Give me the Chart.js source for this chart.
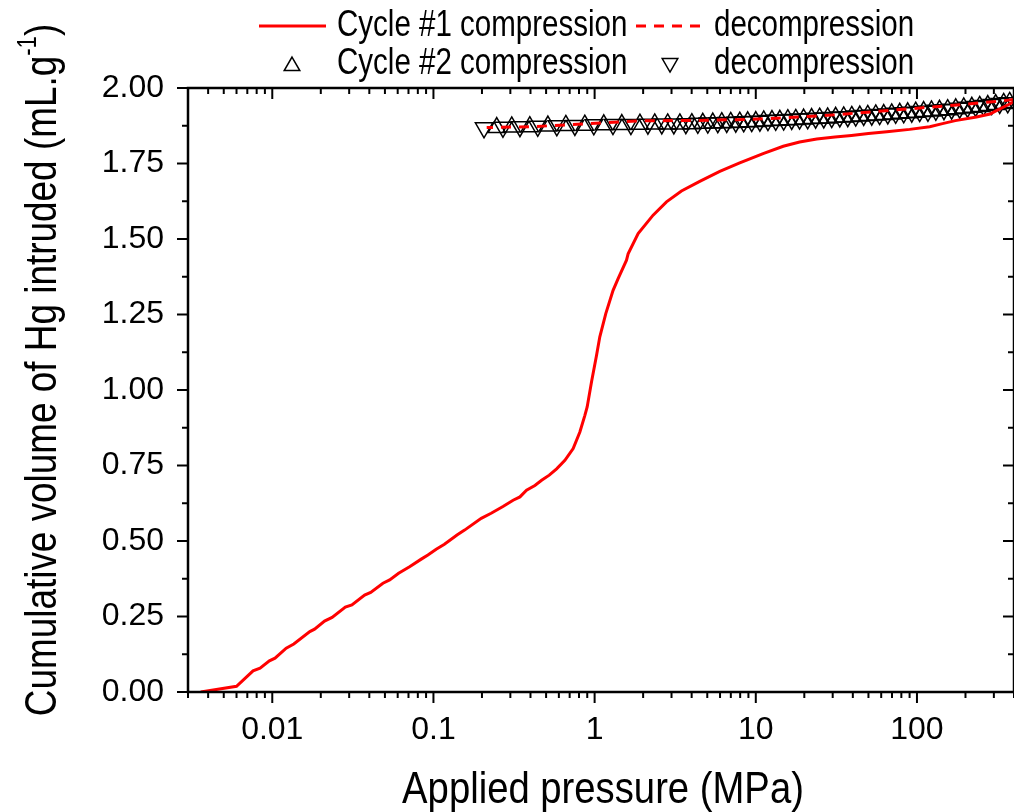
<!DOCTYPE html>
<html><head><meta charset="utf-8">
<script src="https://cdn.jsdelivr.net/npm/chart.js@4/dist/chart.umd.min.js"></script>
<style>html,body{margin:0;padding:0;background:#fff}</style>
</head><body>
<canvas id="c" width="1014" height="812"></canvas>
<script>
const FONT = "'Liberation Sans',Arial,sans-serif";
const NARROW = 0.82;

// Cycle #1 compression (pressure MPa, cumulative volume mL/g)
const cycle1CompP = [0.0036, 0.0060, 0.0076, 0.0084, 0.0096, 0.0104, 0.0122, 0.0136, 0.0171, 0.0183, 0.0211, 0.0235, 0.0284, 0.0312, 0.0374, 0.0408, 0.0486, 0.0535, 0.0608, 0.0711, 0.0840, 0.0924, 0.104, 0.117, 0.140, 0.156, 0.198, 0.228, 0.270, 0.312, 0.344, 0.378, 0.426, 0.469, 0.523, 0.581, 0.654, 0.736, 0.810, 0.870, 0.899, 0.957, 1.028, 1.077, 1.173, 1.302, 1.399, 1.577, 1.614, 1.862, 2.306, 2.792, 3.458, 4.49, 5.98, 7.95, 11.1, 14.8, 18.7, 23.9, 31.0, 39.2, 50.0, 65.0, 90.1, 120, 144, 173, 234, 284, 311, 376, 400];
const cycle1CompV = [0, 0.019, 0.070, 0.079, 0.103, 0.112, 0.145, 0.159, 0.200, 0.208, 0.235, 0.247, 0.281, 0.288, 0.321, 0.330, 0.360, 0.371, 0.393, 0.415, 0.440, 0.454, 0.473, 0.489, 0.520, 0.536, 0.575, 0.592, 0.614, 0.635, 0.646, 0.668, 0.684, 0.701, 0.718, 0.739, 0.767, 0.806, 0.861, 0.916, 0.944, 1.027, 1.115, 1.176, 1.253, 1.330, 1.369, 1.430, 1.451, 1.518, 1.579, 1.623, 1.659, 1.691, 1.724, 1.752, 1.783, 1.807, 1.821, 1.831, 1.838, 1.843, 1.849, 1.855, 1.863, 1.872, 1.882, 1.892, 1.904, 1.914, 1.925, 1.947, 1.955];

// Cycle #1 decompression
const cycle1DecompP = [400, 345, 191, 105, 55.4, 30.4, 16.0, 8.87, 4.89, 1.91, 0.782, 0.411, 0.214];
const cycle1DecompV = [1.962, 1.958, 1.945, 1.934, 1.922, 1.911, 1.902, 1.896, 1.893, 1.891, 1.880, 1.872, 1.869];

// Cycle #2 compression
const cycle2CompP = [0.247, 0.306, 0.396, 0.513, 0.663, 0.869, 1.14, 1.475, 1.91, 2.36, 2.84, 3.38, 4.01, 4.69, 5.41, 6.15, 6.99, 7.95, 8.91, 10.0, 11.2, 12.6, 14.1, 15.8, 17.7, 19.8, 22.2, 24.9, 27.9, 31.3, 35.1, 39.4, 44.2, 49.5, 55.5, 62.2, 69.7, 78.2, 87.6, 98.2, 110, 123, 138, 155, 174, 195, 219, 245, 275, 308, 345, 376];
const cycle2CompV = [1.869, 1.871, 1.872, 1.874, 1.876, 1.877, 1.878, 1.879, 1.880, 1.881, 1.881, 1.881, 1.882, 1.883, 1.884, 1.885, 1.886, 1.887, 1.888, 1.889, 1.891, 1.892, 1.893, 1.895, 1.896, 1.897, 1.899, 1.900, 1.901, 1.903, 1.904, 1.906, 1.907, 1.909, 1.911, 1.912, 1.914, 1.916, 1.918, 1.920, 1.922, 1.924, 1.926, 1.928, 1.931, 1.934, 1.936, 1.939, 1.942, 1.945, 1.949, 1.952];

// Cycle #2 decompression
const cycle2DecompP = [366, 326, 291, 259, 231, 206, 184, 164, 147, 131, 117, 104, 92.8, 82.8, 73.8, 65.9, 58.7, 52.4, 46.7, 41.7, 37.2, 33.2, 29.6, 26.4, 23.5, 21.0, 18.7, 16.7, 14.9, 13.3, 11.9, 10.6, 9.44, 8.42, 7.51, 6.60, 5.81, 5.04, 4.37, 3.68, 3.10, 2.61, 2.14, 1.68, 1.30, 0.989, 0.754, 0.583, 0.444, 0.344, 0.270, 0.206];
const cycle2DecompV = [1.951, 1.949, 1.945, 1.942, 1.939, 1.936, 1.933, 1.930, 1.928, 1.926, 1.923, 1.922, 1.920, 1.918, 1.916, 1.914, 1.912, 1.910, 1.909, 1.907, 1.905, 1.904, 1.902, 1.901, 1.900, 1.898, 1.897, 1.896, 1.894, 1.893, 1.892, 1.890, 1.889, 1.888, 1.887, 1.886, 1.885, 1.884, 1.883, 1.882, 1.881, 1.881, 1.880, 1.879, 1.879, 1.878, 1.876, 1.875, 1.873, 1.872, 1.870, 1.868];

const seriesLabels = ['Cycle #1 compression', 'decompression', 'Cycle #2 compression', 'decompression'];
const xTickValues = [0.01, 0.1, 1, 10, 100];
const xTickLabels = ['0.01', '0.1', '1', '10', '100'];
const xTitle = 'Applied pressure (MPa)';
const yTitleMain = 'Cumulative volume of Hg intruded (mL.g';
const yTitleSup = '-1';
const yTitleEnd = ')';

const pts = (p, v) => p.map((x, i) => ({x, y: v[i]}));

function isMajorX(v) {
  return xTickValues.findIndex(t => Math.abs(v - t) / t < 1e-6);
}

function narrowText(ctx, txt, x, y, size, k) {
  ctx.save();
  ctx.font = size + 'px ' + FONT;
  ctx.translate(x, y);
  ctx.scale(k || NARROW, 1);
  ctx.fillText(txt, 0, 0);
  ctx.restore();
}

const framePlugin = {
  id: 'frame',
  afterDraw(chart) {
    const {ctx, chartArea: a, scales} = chart;
    const x = scales.x, y = scales.y;
    ctx.save();
    ctx.strokeStyle = '#000';
    ctx.lineWidth = 2.5;
    ctx.strokeRect(a.left, a.top, a.right - a.left, a.bottom - a.top);
    ctx.lineWidth = 2;
    const ln = (x1, y1, x2, y2) => { ctx.beginPath(); ctx.moveTo(x1, y1); ctx.lineTo(x2, y2); ctx.stroke(); };
    for (let e = -3; e <= 2; e++) {
      for (let m = 1; m <= 9; m++) {
        const v = m * Math.pow(10, e);
        if (v < x.min || v > x.max) continue;
        const px = x.getPixelForValue(v);
        const L = m === 1 ? 11 : 6;
        ln(px, a.bottom, px, a.bottom + L);
        ln(px, a.top, px, a.top + L);
      }
    }
    for (let k = 0; k <= 16; k++) {
      const v = k * 0.125;
      const py = y.getPixelForValue(v);
      const L = k % 2 === 0 ? 11 : 6;
      ln(a.left - L, py, a.left, py);
      ln(a.right - L, py, a.right, py);
    }
    ctx.fillStyle = '#000';
    ctx.textBaseline = 'alphabetic';
    ctx.textAlign = 'left';

    // x title
    const kx = 0.85;
    ctx.font = '45px ' + FONT;
    const wx = ctx.measureText(xTitle).width * kx;
    narrowText(ctx, xTitle, 603 - wx / 2, 803, 45, kx);

    // y title with superscript
    const fMain = '45px ' + FONT, fSup = '27px ' + FONT;
    ctx.font = fMain;
    const w1 = ctx.measureText(yTitleMain).width;
    const w3 = ctx.measureText(yTitleEnd).width;
    ctx.font = fSup;
    const w2 = ctx.measureText(yTitleSup).width;
    const tot = w1 + w2 + w3;
    ctx.save();
    ctx.translate(56, 370);
    ctx.rotate(-Math.PI / 2);
    ctx.scale(NARROW, 1);
    let sx = -tot / 2;
    ctx.font = fMain; ctx.fillText(yTitleMain, sx, 0); sx += w1;
    ctx.font = fSup; ctx.fillText(yTitleSup, sx, -20); sx += w2;
    ctx.font = fMain; ctx.fillText(yTitleEnd, sx, 0);
    ctx.restore();

    // legend
    const ds = chart.data.datasets;
    ctx.textBaseline = 'middle';
    const r1 = 26, r2 = 64;
    ctx.strokeStyle = ds[0].borderColor; ctx.lineWidth = 3;
    ln(259, r1, 326, r1);
    narrowText(ctx, ds[0].label, 337, r1, 36);
    ctx.setLineDash(ds[1].borderDash);
    ln(636, r1, 705, r1);
    ctx.setLineDash([]);
    narrowText(ctx, ds[1].label, 714, r1, 36);
    ctx.strokeStyle = '#000'; ctx.lineWidth = 1.5;
    const tri = (cx, cy, r, down) => {
      const s = down ? -1 : 1;
      ctx.beginPath();
      ctx.moveTo(cx, cy - s * r);
      ctx.lineTo(cx + r * Math.sin(2 * Math.PI / 3), cy + s * r / 2);
      ctx.lineTo(cx - r * Math.sin(2 * Math.PI / 3), cy + s * r / 2);
      ctx.closePath(); ctx.stroke();
    };
    tri(292, r2 + 2, 9, false);
    narrowText(ctx, ds[2].label, 337, r2, 36);
    tri(670, r2 - 1, 9, true);
    narrowText(ctx, ds[3].label, 714, r2, 36);
    ctx.restore();
  }
};

new Chart(document.getElementById('c'), {
  type: 'scatter',
  data: {
    datasets: [
      { label: seriesLabels[0], data: pts(cycle1CompP, cycle1CompV), showLine: true, borderColor: '#ff0000', borderWidth: 3, pointRadius: 0, tension: 0 },
      { label: seriesLabels[1], data: pts(cycle1DecompP, cycle1DecompV), showLine: true, borderColor: '#ff0000', borderWidth: 3, borderDash: [10, 8], pointRadius: 0, tension: 0 },
      { label: seriesLabels[2], data: pts(cycle2CompP, cycle2CompV), showLine: false, pointStyle: 'triangle', pointRadius: 10, pointBorderColor: '#000', pointBackgroundColor: 'rgba(0,0,0,0)', pointBorderWidth: 1.5 },
      { label: seriesLabels[3], data: pts(cycle2DecompP, cycle2DecompV), showLine: false, pointStyle: 'triangle', rotation: 180, pointRadius: 10, pointBorderColor: '#000', pointBackgroundColor: 'rgba(0,0,0,0)', pointBorderWidth: 1.5 }
    ]
  },
  options: {
    responsive: false,
    animation: false,
    layout: { autoPadding: false, padding: { top: 88, left: 0, right: 0, bottom: 0 } },
    plugins: { legend: { display: false }, tooltip: { enabled: false } },
    scales: {
      x: {
        type: 'logarithmic', position: 'bottom', min: 0.003, max: 400,
        grid: { display: false, drawTicks: false }, border: { display: false },
        afterFit: s => { s.height = 120; s.paddingLeft = 0; s.paddingRight = 0; },
        ticks: {
          autoSkip: false, maxRotation: 0, minRotation: 0, padding: 19, color: '#000',
          font: { family: FONT, size: 32 },
          callback: v => { const i = isMajorX(v); return i >= 0 ? xTickLabels[i] : null; }
        }
      },
      y: {
        type: 'linear', min: 0, max: 2,
        grid: { display: false, drawTicks: false }, border: { display: false },
        afterFit: s => { s.width = 188; s.paddingTop = 0; s.paddingBottom = 0; },
        ticks: { stepSize: 0.25, padding: 24, color: '#000', font: { family: FONT, size: 32 }, callback: v => v.toFixed(2) }
      }
    }
  },
  plugins: [framePlugin]
});
</script>
</body></html>
